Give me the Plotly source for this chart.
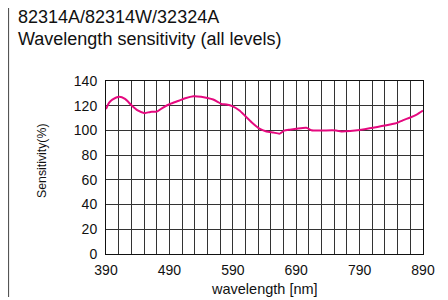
import plotly.graph_objects as go

wavelength = [390, 395, 400, 411, 420, 430, 440, 451, 460, 470, 480, 491, 505, 515, 528, 540, 550, 559, 566, 572, 580, 590, 600, 610, 620, 632, 643, 654, 664, 671, 680, 690, 706, 714, 730, 753, 761, 775, 790, 800, 811, 825, 840, 848, 858, 870, 880, 890]
sensitivity = [117.3, 122.5, 125.0, 127.3, 125.5, 120.5, 116.2, 114.0, 115.0, 115.2, 118.5, 121.4, 124.0, 126.0, 127.6, 127.2, 126.2, 125.0, 123.2, 121.4, 121.0, 119.5, 116.3, 111.5, 106.5, 101.5, 99.2, 98.3, 97.4, 99.8, 100.6, 101.3, 102.2, 100.2, 100.0, 100.0, 99.2, 99.5, 100.3, 101.2, 102.2, 103.5, 105.0, 105.9, 108.2, 110.5, 112.8, 116.0]

title_lines = ["82314A/82314W/32324A", "Wavelength sensitivity (all levels)"]
x_title = "wavelength [nm]"
y_title = "Sensitivity(%)"

font = "Liberation Sans, Arial, Helvetica, sans-serif"
grid = "#333333"

# page has 8px body margin: figure occupies page pixels 8..448 x 8..300
OFF = 8
W, H = 448 - OFF, 300 - OFF
PL, PR, PT, PB = 106, 423, 81, 254   # plot area in page pixels
pw, ph = PR - PL, PB - PT

def px(x):
    return (x - PL) / pw

def py(y):
    return (PB - y) / ph

fig = go.Figure()
fig.add_trace(go.Scatter(x=wavelength, y=sensitivity, mode="lines",
                         line=dict(color="#E5097F", width=2, shape="spline", smoothing=0.6),
                         hoverinfo="skip", showlegend=False))

fig.update_layout(
    width=W, height=H,
    margin=dict(l=PL - OFF, r=W - (PR - OFF), t=PT - OFF, b=H - (PB - OFF), pad=0),
    paper_bgcolor="white", plot_bgcolor="white",
    font=dict(family=font, color="#111111", size=13),
    xaxis=dict(range=[390, 890], tick0=390, dtick=100, showgrid=True, gridcolor=grid, gridwidth=1,
               minor=dict(dtick=20, tick0=390, showgrid=True, gridcolor=grid, gridwidth=1),
               showline=True, linecolor="#111111", linewidth=1, mirror=True,
               ticks="", ticklen=0, tickfont=dict(size=14), ticklabelstandoff=3,
               zeroline=False, fixedrange=True),
    yaxis=dict(range=[0, 140], tick0=0, dtick=20, showgrid=True, gridcolor=grid, gridwidth=1,
               showline=True, linecolor="#111111", linewidth=1, mirror=True,
               ticks="", tickfont=dict(size=14), ticklabelstandoff=5,
               zeroline=False, fixedrange=True),
    annotations=[
        dict(text=title_lines[0], xref="paper", yref="paper", x=px(16), y=py(17),
             xanchor="left", yanchor="middle", showarrow=False, font=dict(size=18, color="#111111")),
        dict(text=title_lines[1], xref="paper", yref="paper", x=px(16), y=py(39.5),
             xanchor="left", yanchor="middle", showarrow=False, font=dict(size=18, color="#111111")),
        dict(text=x_title, xref="paper", yref="paper", x=0.5, y=py(289),
             xanchor="center", yanchor="middle", showarrow=False, font=dict(size=14.5)),
        dict(text=y_title, xref="paper", yref="paper", x=px(42), y=py(161),
             xanchor="center", yanchor="middle", textangle=-90, showarrow=False, font=dict(size=12.3)),
    ],
    shapes=[dict(type="line", xref="paper", yref="paper", x0=px(8.5), x1=px(8.5),
                 y0=py(OFF), y1=py(297), line=dict(color="#555555", width=1.2))],
)

fig.write_html("out.html")
